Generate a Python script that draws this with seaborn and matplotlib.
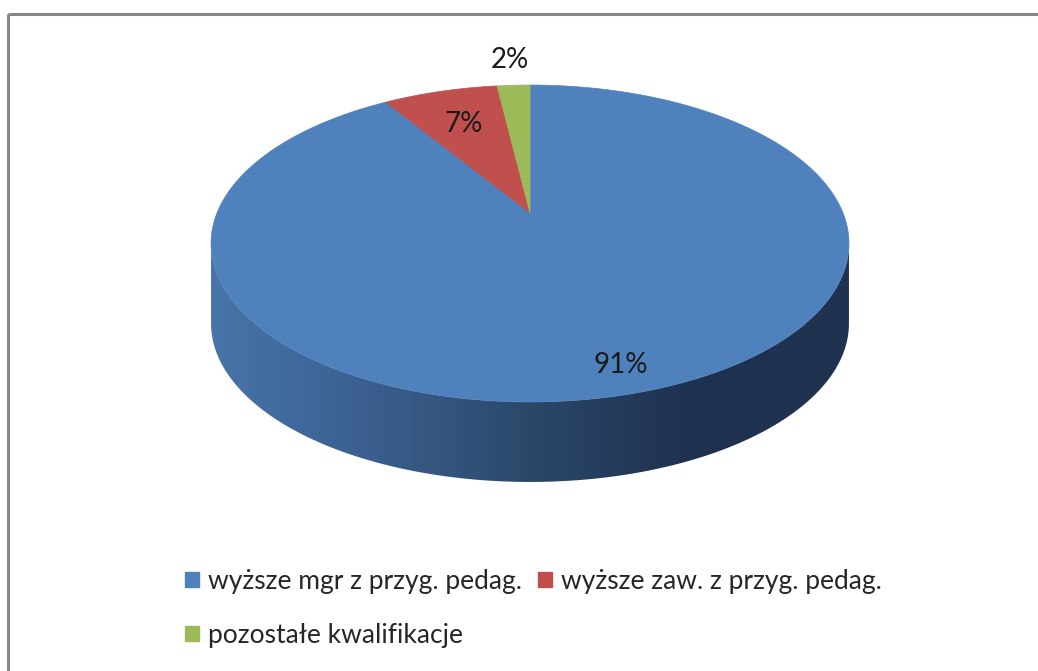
import numpy as np
import matplotlib
matplotlib.use("Agg")
import matplotlib.pyplot as plt
from matplotlib.patches import Polygon, Patch, Rectangle
from matplotlib.colors import LinearSegmentedColormap
import seaborn as sns

# data
categories = ["wyższe mgr z przyg. pedag.", "wyższe zaw. z przyg. pedag.", "pozostałe kwalifikacje"]
shares = [91, 7, 2]
labels = ["91%", "7%", "2%"]

sns.set_theme(style="white")
plt.rcParams['font.family'] = ['Lato', 'DejaVu Sans']
palette = sns.color_palette(["#4F81BD", "#C0504D", "#9BBB59"])

# simple perspective for the tilted pie (pixel space)
CX, CY = 530, 213
A, B, K = 313, 152.6, 0.1924
DEPTH = 80

def project(t, r=1.0):
    u, v = r*np.cos(t), r*np.sin(t)
    w = 1 + K*v
    return CX + A*u/w, CY - B*v/w

fig = plt.figure(figsize=(10.38, 6.71), dpi=100)
ax = fig.add_axes([0, 0, 1, 1])

# side of the cylinder (front only)
t1 = np.pi + np.arcsin(K)
t2 = 2*np.pi - np.arcsin(K)
ts = np.linspace(t1, t2, 200)
xt, yt = project(ts)
side_pts = np.vstack([np.column_stack([xt, yt]),
                      np.column_stack([xt[::-1], yt[::-1] + DEPTH])])
side = Polygon(side_pts, closed=True, fill=False, lw=0)
ax.add_patch(side)
side_cmap = LinearSegmentedColormap.from_list(
    "side", ["#4874AA", "#3A5F8E", "#2B4869", "#1F3150", "#1F3350"])
grad = np.linspace(0, 1, 256).reshape(1, -1)
im = ax.imshow(grad, extent=[xt.min(), xt.max(), yt.max() + DEPTH, yt.min()],
               cmap=side_cmap, aspect='auto', zorder=1)
im.set_clip_path(side)

# top surface slices, clockwise from 12 o'clock
total = sum(shares)
start = np.pi/2
label_r = [0.87, 0.7, 1.24]
for i, val in enumerate(shares):
    sweep = 2*np.pi*val/total
    tt = np.linspace(start, start - sweep, max(int(val*4), 10))
    xs, ys = project(tt)
    pts = np.vstack([[CX, CY], np.column_stack([xs, ys])])
    ax.add_patch(Polygon(pts, closed=True, facecolor=palette[i],
                         edgecolor=palette[i], lw=0.5, zorder=2))
    lx, ly = project(start - sweep/2, label_r[i])
    ax.text(lx, ly, labels[i], ha='center', va='center', fontsize=20,
            color='#1a1a1a', zorder=3)
    start -= sweep

# outer frame
ax.add_patch(Rectangle((8, 14), 1100, 700, fill=False, ec='#878787', lw=2.2, zorder=4))

# legend: order so that 2 columns read row by row
handles = [Patch(color=palette[0], label=categories[0]),
           Patch(color=palette[2], label=categories[2]),
           Patch(color=palette[1], label=categories[1])]
ax.legend(handles=handles, ncol=2, loc='upper left', frameon=False,
          bbox_to_anchor=(185/1038, 1 - 569/671), bbox_transform=fig.transFigure,
          fontsize=19, handlelength=0.53, handleheight=0.53, handletextpad=0.34,
          columnspacing=0.6, labelspacing=1.1, borderpad=0, borderaxespad=0)

ax.set_xlim(0, 1038)
ax.set_ylim(671, 0)
ax.axis('off')

fig.savefig("out.png", dpi=100)
